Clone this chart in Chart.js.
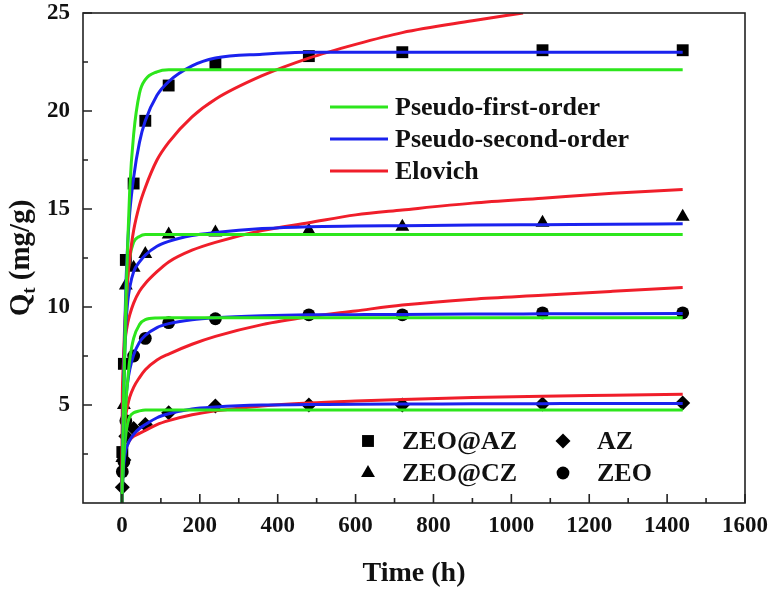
<!DOCTYPE html>
<html>
<head>
<meta charset="utf-8">
<script src="https://cdn.jsdelivr.net/npm/chart.js@4.4.0/dist/chart.umd.min.js"></script>
<style>
  html, body { margin: 0; padding: 0; background: #fff; }
</style>
</head>
<body>
<canvas id="kinetics" width="774" height="592"></canvas>
<script>
// Sample times (h) of the measured points and of the fitted curves
const pointTime = [1, 5, 10, 30, 60, 120, 240, 480, 720, 1080, 1440];
const curveTime = [0, 1, 2, 5, 10, 15, 20, 30, 45, 60, 90, 120, 180, 240, 360, 480, 600, 720, 900, 1080, 1260, 1440];
const elovichZeoAzTime = [0, 1, 2, 5, 10, 15, 20, 30, 45, 60, 90, 120, 180, 240, 360, 480, 600, 720, 900, 1030];

// Measured Qt (mg/g)
const zeoAzQ = [2.6, 7.1, 12.4, 16.3, 19.5, 21.3, 22.4, 22.8, 23.0, 23.1, 23.1];
const zeoCzQ = [2.3, 5.0, 11.1, 12.0, 12.7, 13.7, 13.8, 13.9, 14.1, 14.3, 14.6];
const azQ    = [0.8, 2.2, 3.4, 3.8, 4.0, 4.6, 4.95, 5.0, 5.0, 5.05, 5.1];
const zeoQ   = [1.6, 2.1, 4.2, 7.5, 8.4, 9.2, 9.4, 9.6, 9.6, 9.7, 9.7];

// Fitted curves
const pfoZeoAz = [0, 1.4, 2.8, 6.2, 10.3, 13.3, 16.0, 18.8, 20.9, 21.6, 22.0, 22.1, 22.1, 22.1, 22.1, 22.1, 22.1, 22.1, 22.1, 22.1, 22.1, 22.1];
const psoZeoAz = [0, 1.7, 3.3, 7.0, 11.0, 13.3, 14.8, 16.6, 18.4, 19.5, 20.8, 21.5, 22.3, 22.7, 22.9, 23.0, 23.0, 23.0, 23.0, 23.0, 23.0, 23.0];
const eloZeoAz = [0, 3.5, 5.0, 7.9, 10.1, 11.5, 12.5, 13.9, 15.2, 16.1, 17.5, 18.4, 19.7, 20.6, 21.8, 22.7, 23.4, 24.0, 24.6, 25.0];

const pfoZeoCz = [0, 1.5, 2.9, 6.2, 9.6, 11.5, 12.5, 13.3, 13.6, 13.7, 13.7, 13.7, 13.7, 13.7, 13.7, 13.7, 13.7, 13.7, 13.7, 13.7, 13.7, 13.7];
const psoZeoCz = [0, 1.6, 3.0, 6.0, 9.0, 10.3, 11.0, 11.8, 12.3, 12.65, 13.1, 13.35, 13.65, 13.8, 14.0, 14.1, 14.13, 14.15, 14.18, 14.2, 14.22, 14.25];
const eloZeoCz = [0, 5.3, 6.3, 7.6, 8.6, 9.2, 9.6, 10.2, 10.8, 11.2, 11.8, 12.3, 12.9, 13.3, 13.9, 14.3, 14.7, 14.95, 15.3, 15.55, 15.8, 16.0];

const pfoZeo = [0, 0.7, 1.3, 3.0, 5.0, 6.3, 7.3, 8.4, 9.1, 9.35, 9.44, 9.45, 9.45, 9.45, 9.45, 9.45, 9.45, 9.45, 9.45, 9.45, 9.45, 9.45];
const psoZeo = [0, 0.9, 1.8, 3.6, 5.3, 6.2, 6.8, 7.55, 8.2, 8.55, 8.95, 9.15, 9.35, 9.45, 9.55, 9.6, 9.61, 9.62, 9.64, 9.65, 9.66, 9.67];
const eloZeo = [0, 1.8, 2.6, 3.6, 4.5, 5.0, 5.4, 5.9, 6.4, 6.8, 7.3, 7.6, 8.1, 8.5, 9.1, 9.5, 9.8, 10.1, 10.4, 10.6, 10.8, 11.0];

const pfoAz = [0, 0.6, 1.2, 2.4, 3.5, 4.1, 4.4, 4.6, 4.7, 4.75, 4.75, 4.75, 4.75, 4.75, 4.75, 4.75, 4.75, 4.75, 4.75, 4.75, 4.75, 4.75];
const psoAz = [0, 0.6, 1.1, 2.0, 2.7, 3.0, 3.2, 3.5, 3.8, 4.0, 4.35, 4.55, 4.8, 4.9, 5.0, 5.02, 5.04, 5.05, 5.06, 5.07, 5.08, 5.08];
const eloAz = [0, 1.5, 1.9, 2.4, 2.8, 3.0, 3.2, 3.4, 3.55, 3.7, 4.0, 4.2, 4.5, 4.7, 4.95, 5.1, 5.2, 5.28, 5.38, 5.45, 5.5, 5.55];

// Axis ticks
const xTickValues = [0, 200, 400, 600, 800, 1000, 1200, 1400, 1600];
const yTickValues = [5, 10, 15, 20, 25];

const modelLabels = ['Pseudo-first-order', 'Pseudo-second-order', 'Elovich'];
const modelColors = ['#2de61c', '#1a22ee', '#f01e2a'];
const sampleLabels = ['ZEO@AZ', 'ZEO@CZ', 'AZ', 'ZEO'];
const sampleStyles = ['rect', 'triangle', 'rectRot', 'circle'];
const sampleRadius = [8.4, 8, 7.5, 6.4];

const FONT = '"Liberation Serif", "Times New Roman", serif';

function pairs(xs, ys) {
    return ys.map((y, i) => ({ x: xs[i], y: y }));
}

function curve(label, modelIdx, xs, ys) {
    return {
        type: 'line',
        label: label,
        data: pairs(xs, ys),
        borderColor: modelColors[modelIdx],
        borderWidth: 3,
        pointRadius: 0,
        fill: false,
        cubicInterpolationMode: 'monotone',
        order: 1
    };
}

function markers(idx, ys) {
    return {
        type: 'scatter',
        label: sampleLabels[idx],
        data: pairs(pointTime, ys),
        pointStyle: sampleStyles[idx],
        pointRadius: sampleRadius[idx],
        pointBackgroundColor: '#000',
        pointBorderColor: '#000',
        pointBorderWidth: 0,
        order: 2
    };
}

const datasets = [
    markers(0, zeoAzQ), markers(1, zeoCzQ), markers(2, azQ), markers(3, zeoQ),
    curve('PFO ZEO@AZ', 0, curveTime, pfoZeoAz),
    curve('PSO ZEO@AZ', 1, curveTime, psoZeoAz),
    curve('Elovich ZEO@AZ', 2, elovichZeoAzTime, eloZeoAz),
    curve('PFO ZEO@CZ', 0, curveTime, pfoZeoCz),
    curve('PSO ZEO@CZ', 1, curveTime, psoZeoCz),
    curve('Elovich ZEO@CZ', 2, curveTime, eloZeoCz),
    curve('PFO ZEO', 0, curveTime, pfoZeo),
    curve('PSO ZEO', 1, curveTime, psoZeo),
    curve('Elovich ZEO', 2, curveTime, eloZeo),
    curve('PFO AZ', 0, curveTime, pfoAz),
    curve('PSO AZ', 1, curveTime, psoAz),
    curve('Elovich AZ', 2, curveTime, eloAz)
];

// Frame, inward ticks, y title with subscript, and both in-plot legends
const framePlugin = {
    id: 'frame',
    afterDraw(chart) {
        const ctx = chart.ctx;
        const a = chart.chartArea;
        const xs = chart.scales.x, ys = chart.scales.y;
        ctx.save();
        ctx.strokeStyle = '#222';
        ctx.lineWidth = 1.6;
        ctx.strokeRect(a.left, a.top, a.right - a.left, a.bottom - a.top);

        ctx.beginPath();
        for (let v = 0; v <= 1600; v += 100) {
            const px = xs.getPixelForValue(v);
            const len = v % 200 === 0 ? 9 : 5;
            ctx.moveTo(px, a.bottom);
            ctx.lineTo(px, a.bottom - len);
        }
        for (let v = 2.5; v <= 25; v += 2.5) {
            const py = ys.getPixelForValue(v);
            const len = v % 5 === 0 ? 9 : 5;
            ctx.moveTo(a.left, py);
            ctx.lineTo(a.left + len, py);
        }
        ctx.stroke();

        // y-axis title: Q_t (mg/g)
        ctx.fillStyle = '#111';
        ctx.translate(19, (a.top + a.bottom) / 2);
        ctx.rotate(-Math.PI / 2);
        ctx.textBaseline = 'alphabetic';
        const big = 'bold 29px ' + FONT, small = 'bold 19px ' + FONT;
        ctx.font = big;
        const wQ = ctx.measureText('Q').width;
        const wRest = ctx.measureText(' (mg/g)').width;
        ctx.font = small;
        const wt = ctx.measureText('t').width;
        let x0 = -(wQ + wt + wRest) / 2;
        const base = 10;
        ctx.font = big;
        ctx.fillText('Q', x0, base);
        ctx.font = small;
        ctx.fillText('t', x0 + wQ, base + 6);
        ctx.font = big;
        ctx.fillText(' (mg/g)', x0 + wQ + wt, base);
        ctx.restore();

        // model legend
        ctx.save();
        ctx.font = 'bold 26px ' + FONT;
        ctx.textBaseline = 'middle';
        ctx.fillStyle = '#111';
        const rowY = [107, 139, 171];
        modelLabels.forEach((lab, i) => {
            ctx.strokeStyle = modelColors[i];
            ctx.lineWidth = 3;
            ctx.beginPath();
            ctx.moveTo(330, rowY[i]);
            ctx.lineTo(388, rowY[i]);
            ctx.stroke();
            ctx.fillText(lab, 395, rowY[i] + 1);
        });

        // sample legend
        const pos = [[368, 441], [368, 473], [563, 441], [563, 473]];
        sampleLabels.forEach((lab, i) => {
            ctx.fillStyle = '#000';
            ctx.strokeStyle = '#000';
            Chart.helpers.drawPoint(ctx, {
                pointStyle: sampleStyles[i], radius: sampleRadius[i], rotation: 0, borderWidth: 0
            }, pos[i][0], pos[i][1]);
            ctx.fillStyle = '#111';
            ctx.fillText(lab, pos[i][0] + 34, pos[i][1] + 1);
        });
        ctx.restore();
    }
};

new Chart(document.getElementById('kinetics'), {
    data: { datasets: datasets },
    options: {
        responsive: false,
        animation: false,
        devicePixelRatio: 1,
        layout: { padding: { top: 13, right: 29, left: 0, bottom: 0 } },
        plugins: { legend: { display: false }, tooltip: { enabled: false } },
        scales: {
            x: {
                type: 'linear',
                min: -100,
                max: 1600,
                afterBuildTicks: s => { s.ticks = xTickValues.map(v => ({ value: v })); },
                afterFit: s => { s.height = 89; s.paddingLeft = 0; s.paddingRight = 0; },
                grid: { display: false, drawTicks: false },
                border: { display: false },
                ticks: {
                    padding: 9,
                    maxRotation: 0,
                    autoSkip: false,
                    color: '#111',
                    font: { family: FONT, weight: 'bold', size: 23 },
                    callback: v => String(v)
                },
                title: {
                    display: true,
                    text: 'Time (h)',
                    color: '#111',
                    font: { family: FONT, weight: 'bold', size: 28 },
                    padding: { top: 0, bottom: 1 }
                }
            },
            y: {
                type: 'linear',
                min: 0,
                max: 25,
                afterBuildTicks: s => { s.ticks = yTickValues.map(v => ({ value: v })); },
                afterFit: s => { s.width = 83; s.paddingTop = 0; s.paddingBottom = 0; },
                grid: { display: false, drawTicks: false },
                border: { display: false },
                ticks: {
                    padding: 13,
                    color: '#111',
                    font: { family: FONT, weight: 'bold', size: 23 },
                    callback: v => String(v)
                }
            }
        }
    },
    plugins: [framePlugin]
});
</script>
</body>
</html>
